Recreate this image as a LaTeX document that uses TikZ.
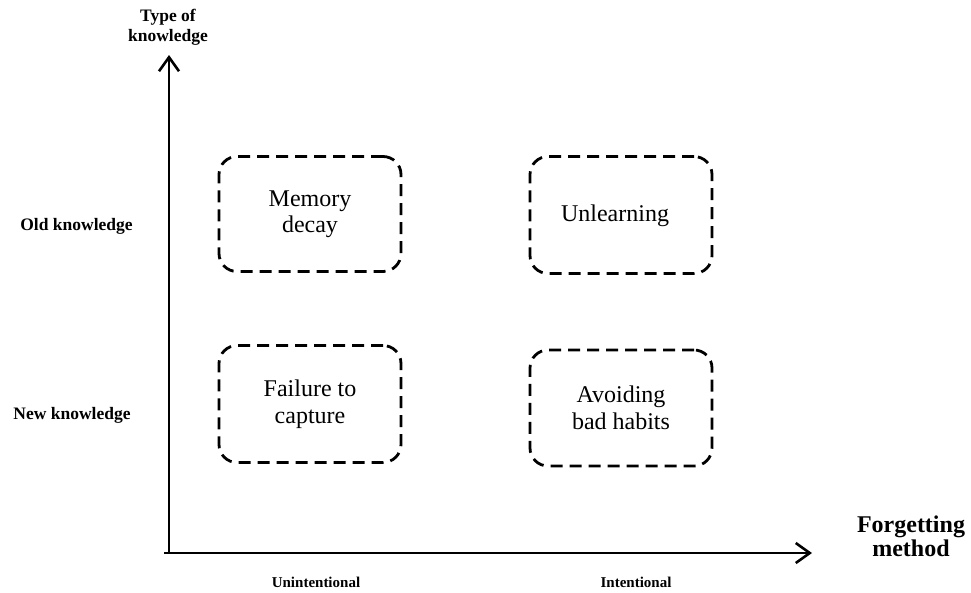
\documentclass[tikz,border=0pt]{standalone}
\usepackage{fontspec}
\setmainfont{Liberation Serif}
\usetikzlibrary{arrows.meta}
\begin{document}
\begin{tikzpicture}[x=1pt,y=-1pt,
  quad/.style={draw, line width=2.8pt, dash pattern=on 12pt off 7pt, rounded corners=18pt,
    minimum width=182pt, minimum height=116pt, align=center, font=\fontsize{24}{26.5}\selectfont},
  axis/.style={line width=2.6pt, -{Straight Barb[length=14pt,width=20pt,line width=2.6pt]}},
  small/.style={font=\bfseries\fontsize{17.5}{20}\selectfont, align=center},
  tiny/.style={font=\bfseries\fontsize{15}{17}\selectfont}]
\useasboundingbox (0,0) rectangle (971,592);
\coordinate (origin) at (169,553);
\coordinate (ytip) at (169,55);
\coordinate (xtip) at (812,553);
\coordinate (xstart) at (164,553);
\draw[axis] (origin) -- (ytip);
\draw[axis] (xstart) -- (xtip);
\node[quad, minimum height=115pt] (md) at (310,214) {Memory\\decay};
\node[quad, minimum height=117pt] (ul) at (621,215) {};
\node[font=\fontsize{24}{26.5}\selectfont] (ult) at (615,216) {Unlearning};
\node[quad, minimum height=117pt] (fc) at (310,404) {Failure to\\capture};
\node[quad] (ab) at (621,408) {Avoiding\\bad habits};
\node[small] (yl) at (168,27) {Type of\\knowledge};
\node[small] (old) at (76.5,226) {Old knowledge};
\node[small] (new) at (72,415) {New knowledge};
\node[font=\bfseries\fontsize{24}{24}\selectfont, align=center] (xl) at (911,536) {Forgetting\\method};
\node[tiny] (un) at (316,582) {Unintentional};
\node[tiny] (in) at (636,582) {Intentional};
\end{tikzpicture}
\end{document}
